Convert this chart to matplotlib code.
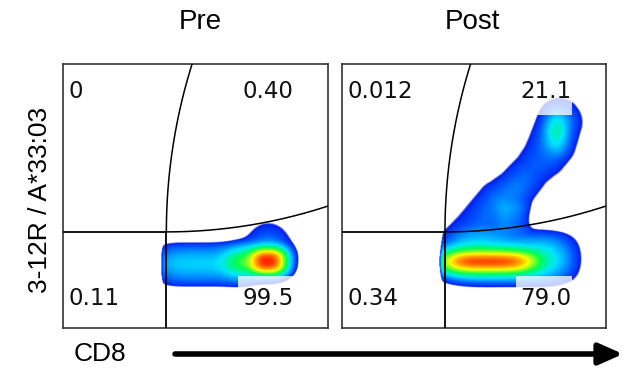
import numpy as np
import matplotlib
matplotlib.use("Agg")
import matplotlib.pyplot as plt
from matplotlib.colors import LinearSegmentedColormap
from matplotlib.patches import Rectangle, FancyArrowPatch

plt.rcParams['font.family'] = ['Liberation Sans', 'DejaVu Sans']

# ---- data ----
panel_titles = ["Pre", "Post"]
quad_labels = [["0", "0.40", "0.11", "99.5"],
               ["0.012", "21.1", "0.34", "79.0"]]
y_axis_label = "3-12R / A*33:03"
x_axis_label = "CD8"

# gate geometry (axes fraction)
gate_x = 0.39
gate_y = 0.364
gate_top_x = 0.487
gate_right_y = 0.462

# left boundary of the CD8+ events in each panel
left_edge = [0.372, 0.376]

# density populations: centre x, centre y, sigma x, sigma y, exponent x, exponent y, level
pre_cx = [0.540, 0.520, 0.670, 0.774, 0.775]
pre_cy = [0.240, 0.243, 0.250, 0.252, 0.290]
pre_sx = [0.160, 0.150, 0.040, 0.050, 0.062]
pre_sy = [0.076, 0.037, 0.035, 0.036, 0.074]
pre_px = [6, 4, 2, 2.5, 2]
pre_py = [6, 2, 2, 2.5, 2]
pre_lv = [0.06, 0.09, 0.20, 0.85, 0.09]

post_cx = [0.632, 0.550, 0.780, 0.813, 0.650]
post_cy = [0.264, 0.251, 0.262, 0.744, 0.420]
post_sx = [0.206, 0.150, 0.060, 0.028, 0.050]
post_sy = [0.086, 0.030, 0.045, 0.048, 0.050]
post_px = [4, 4, 2, 2, 4]
post_py = [4, 2, 2, 2, 4]
post_lv = [0.10, 0.75, 0.10, 0.14, 0.04]

# Post upper population (ridge path): x, y, half-width, level
arm_x = [0.500, 0.600, 0.660, 0.720, 0.765, 0.795, 0.825, 0.835]
arm_y = [0.360, 0.470, 0.530, 0.600, 0.650, 0.700, 0.780, 0.800]
arm_hw = [0.090, 0.095, 0.080, 0.075, 0.085, 0.092, 0.088, 0.068]
arm_lv = [0.060, 0.090, 0.085, 0.065, 0.070, 0.085, 0.085, 0.070]

blobs = [(pre_cx, pre_cy, pre_sx, pre_sy, pre_px, pre_py, pre_lv),
         (post_cx, post_cy, post_sx, post_sy, post_px, post_py, post_lv)]
arms = [None, (arm_x, arm_y, arm_hw, arm_lv)]

cmap = LinearSegmentedColormap.from_list(
    "flowjo",
    [(0.0, "#0000e0"), (0.18, "#0050ff"), (0.38, "#00e5ff"), (0.55, "#00ff50"),
     (0.75, "#ffff00"), (0.87, "#ff8c00"), (1.0, "#ff0000")])
threshold = 0.03
gamma = 0.5

fig = plt.figure(figsize=(6.31, 3.70), dpi=100)
panel_rects = [[63/631, 42/370, 265/631, 264/370],
               [342/631, 42/370, 264/631, 264/370]]

N = 420
g = (np.arange(N) + 0.5) / N
X, Y = np.meshgrid(g, g)


def gate_curves():
    dy = 1.0 - gate_y
    dx = gate_top_x - gate_x
    R = (dx**2 + dy**2) / (2 * dx)
    yy = np.linspace(gate_y, 1.0, 200)
    xv = gate_x + R - np.sqrt(R**2 - (yy - gate_y)**2)
    dx2 = 1.0 - gate_x
    dy2 = gate_right_y - gate_y
    R2 = (dx2**2 + dy2**2) / (2 * dy2)
    xx = np.linspace(gate_x, 1.0, 200)
    yh = gate_y + R2 - np.sqrt(R2**2 - (xx - gate_x)**2)
    return (xv, yy), (xx, yh)


def arm_density(ax_, ay_, hw_, lv_):
    out = np.zeros_like(X)
    for k in range(len(ax_) - 1):
        x0, y0, x1, y1 = ax_[k], ay_[k], ax_[k + 1], ay_[k + 1]
        vx, vy = x1 - x0, y1 - y0
        tt = np.clip(((X - x0) * vx + (Y - y0) * vy) / (vx * vx + vy * vy), 0, 1)
        d = np.hypot(X - (x0 + tt * vx), Y - (y0 + tt * vy))
        hw = hw_[k] + tt * (hw_[k + 1] - hw_[k])
        lv = lv_[k] + tt * (lv_[k + 1] - lv_[k])
        val = lv * (threshold / lv) ** ((d / hw) ** 2)
        out = np.maximum(out, val)
    return out


box_specs = [[(0.66, 0.05, 0.21, 0.147)],
             [(0.66, 0.05, 0.211, 0.147), (0.64, 0.807, 0.231, 0.15)]]

for i, rect in enumerate(panel_rects):
    ax = fig.add_axes(rect)
    cx, cy, sx, sy, px, py, lv = blobs[i]
    D = np.zeros_like(X)
    for a, b, s1, s2, p1, p2, l in zip(cx, cy, sx, sy, px, py, lv):
        D += l * np.exp(-0.5 * (np.abs((X - a) / s1) ** p1 + np.abs((Y - b) / s2) ** p2))
    if arms[i] is not None:
        D += arm_density(*arms[i])
    D *= 1.0 / (1.0 + np.exp(-(X - left_edge[i]) / 0.003))
    t = np.clip((D - threshold) / (1 - threshold), 0, 1) ** gamma
    rgba = cmap(t)
    rgba[..., 3] = np.clip((D - threshold) / 0.004, 0, 1)
    ax.imshow(rgba, extent=(0, 1, 0, 1), origin="lower", interpolation="bilinear",
              aspect="auto", zorder=1)
    for (bx, by, bw, bh) in box_specs[i]:
        ax.add_patch(Rectangle((bx, by), bw, bh, transform=ax.transAxes,
                               facecolor="white", alpha=0.78, edgecolor="none", zorder=2))
    (xv, yv), (xh, yh) = gate_curves()
    ax.plot([gate_x, gate_x], [0, gate_y], color="black", lw=1.3, zorder=3)
    ax.plot([0, gate_x], [gate_y, gate_y], color="black", lw=1.3, zorder=3)
    ax.plot(xv, yv, color="black", lw=1.1, zorder=3)
    ax.plot(xh, yh, color="black", lw=1.1, zorder=3)
    ax.set_xlim(0, 1)
    ax.set_ylim(0, 1)
    ax.set_xticks([])
    ax.set_yticks([])
    for sp in ax.spines.values():
        sp.set_linewidth(1.2)
        sp.set_color("#333333")
    lab = quad_labels[i]
    kw = dict(fontsize=16.5, family=["DejaVu Sans"], transform=ax.transAxes,
              va="center", zorder=4, color="#111111")
    ax.text(0.02, 0.894, lab[0], ha="left", **kw)
    ax.text(0.870, 0.894, lab[1], ha="right", **kw)
    ax.text(0.02, 0.110, lab[2], ha="left", **kw)
    ax.text(0.870, 0.110, lab[3], ha="right", **kw)

fig.text(200/631, 1 - 22/370, panel_titles[0], ha="center", va="center", fontsize=20)
fig.text(472/631, 1 - 22/370, panel_titles[1], ha="center", va="center", fontsize=20)
fig.text(40/631, 1 - 200/370, y_axis_label, ha="center", va="center", fontsize=19, rotation=90)
fig.text(100/631, 1 - 354/370, x_axis_label, ha="center", va="center", fontsize=19)
fig.add_artist(FancyArrowPatch(
    (175/631, 1 - 354/370), (623/631, 1 - 354/370), transform=fig.transFigure,
    arrowstyle="-|>,head_length=0.9,head_width=0.4", mutation_scale=16,
    linewidth=4.0, color="black", shrinkA=0, shrinkB=0))

fig.savefig("out.png", dpi=100)
